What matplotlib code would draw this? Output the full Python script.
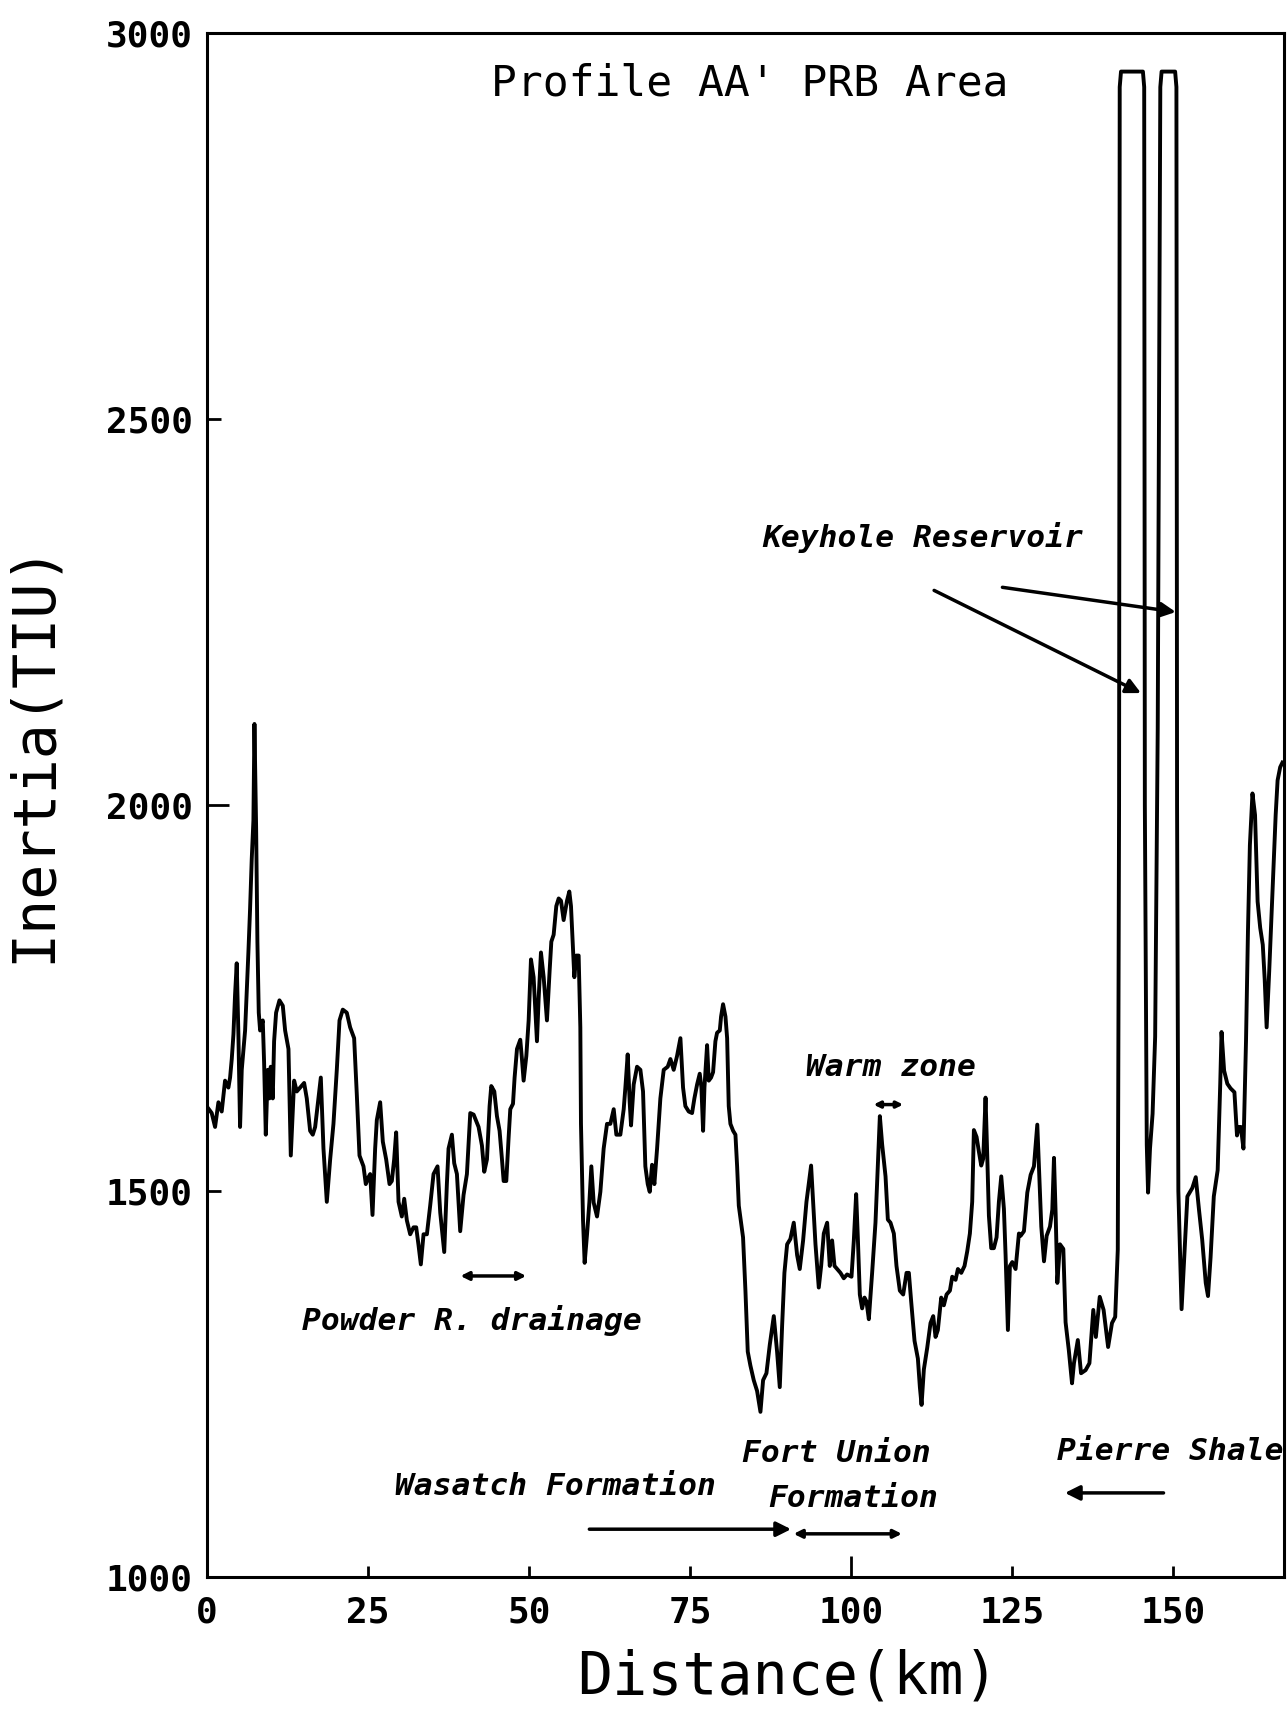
import matplotlib
matplotlib.use('Agg')
import matplotlib.pyplot as plt

# inertia profile, (distance km, inertia TIU)
seg_west = [(0.0, 1610), (0.8, 1601), (1.32, 1583), (1.84, 1615), (2.35, 1603), (2.87, 1643),
            (3.39, 1634), (3.65, 1647), (3.91, 1671), (4.17, 1703), (4.42, 1754), (4.68, 1795),
            (4.94, 1703), (5.2, 1583), (5.46, 1657), (5.98, 1708), (6.49, 1809), (6.75, 1865),
            (7.01, 1930), (7.27, 1980), (7.43, 2105), (7.69, 1971), (7.89, 1823), (8.1, 1731),
            (8.31, 1708), (8.72, 1721), (8.93, 1666), (9.19, 1573), (9.5, 1657), (9.76, 1620),
            (9.96, 1661), (10.27, 1620), (10.48, 1694), (10.79, 1731), (11.31, 1747), (11.83, 1740),
            (12.19, 1708), (12.71, 1684), (13.07, 1546), (13.59, 1643), (14.0, 1629), (14.52, 1634),
            (15.14, 1640), (15.55, 1620), (16.07, 1578), (16.48, 1573), (16.85, 1583), (17.36, 1620),
            (17.73, 1647), (18.14, 1555), (18.66, 1486), (19.18, 1541), (19.69, 1587), (20.21, 1657),
            (20.63, 1721), (21.14, 1735), (21.76, 1731), (22.28, 1712), (22.9, 1698), (23.32, 1624),
            (23.73, 1546), (24.35, 1532), (24.71, 1509), (25.13, 1518), (25.39, 1522), (25.75, 1469),
            (26.16, 1555), (26.42, 1592), (26.94, 1615), (27.35, 1564), (27.87, 1541), (28.39, 1509),
            (28.75, 1513), (29.11, 1541), (29.42, 1576), (29.79, 1486), (30.3, 1467), (30.67, 1490),
            (31.08, 1462), (31.6, 1444), (32.12, 1453), (32.53, 1453), (32.89, 1430), (33.25, 1405),
            (33.67, 1444), (34.19, 1444), (34.7, 1481), (35.22, 1522), (35.84, 1532), (36.26, 1472),
            (36.88, 1421), (37.29, 1509), (37.55, 1555), (38.07, 1573), (38.43, 1536), (38.85, 1522),
            (39.36, 1448), (39.88, 1495), (40.4, 1522)]

seg_wasatch = [(40.92, 1601), (41.44, 1599), (42.21, 1583), (42.73, 1559), (43.09, 1525), (43.51, 1541),
               (43.92, 1610), (44.18, 1636), (44.65, 1629), (45.06, 1597), (45.47, 1578), (45.84, 1541),
               (46.1, 1513), (46.51, 1513), (46.87, 1569), (47.13, 1606), (47.55, 1613), (47.8, 1647),
               (48.17, 1684), (48.68, 1696), (48.94, 1671), (49.2, 1643), (49.62, 1675), (49.98, 1721),
               (50.34, 1800), (50.75, 1777), (51.27, 1694), (51.53, 1749), (51.89, 1809), (52.31, 1777),
               (52.82, 1721), (53.24, 1786), (53.5, 1823), (53.86, 1832), (54.27, 1869), (54.64, 1879),
               (55.0, 1876), (55.41, 1851), (55.93, 1876), (56.29, 1888), (56.55, 1869), (56.86, 1814),
               (57.07, 1777), (57.38, 1805), (57.74, 1805), (58.0, 1712), (58.1, 1587), (58.42, 1462),
               (58.67, 1407), (59.04, 1444), (59.4, 1485), (59.71, 1532), (60.07, 1485), (60.59, 1467),
               (61.11, 1499), (61.62, 1555), (62.14, 1587), (62.66, 1587), (63.18, 1606), (63.59, 1573),
               (64.21, 1573), (64.73, 1606), (64.99, 1634), (65.35, 1677), (65.66, 1615), (65.87, 1585),
               (66.28, 1638), (66.8, 1661), (67.32, 1657), (67.73, 1629), (68.09, 1532), (68.46, 1509),
               (68.77, 1499), (69.13, 1534), (69.49, 1509), (69.91, 1555), (70.42, 1620), (70.94, 1657),
               (71.56, 1661), (71.98, 1671), (72.49, 1657), (73.01, 1675), (73.53, 1698), (73.94, 1634),
               (74.3, 1610), (74.82, 1603), (75.34, 1601), (75.7, 1620), (76.12, 1638), (76.53, 1652),
               (76.79, 1634), (77.05, 1578), (77.26, 1634), (77.67, 1689), (77.93, 1643), (78.29, 1647),
               (78.6, 1654), (78.96, 1694), (79.22, 1705), (79.64, 1708), (79.84, 1726), (80.15, 1742),
               (80.52, 1726), (80.78, 1698), (81.03, 1610), (81.29, 1587), (81.71, 1578), (82.07, 1573),
               (82.33, 1532), (82.59, 1481)]

seg_fortunion = [(83.25, 1440), (83.62, 1371), (83.98, 1292), (84.39, 1274), (84.91, 1255), (85.43, 1241),
                 (85.95, 1214), (86.36, 1255), (86.88, 1264), (87.4, 1301), (88.02, 1338), (88.53, 1292),
                 (88.95, 1246), (89.31, 1325), (89.67, 1394), (90.09, 1431), (90.6, 1438), (91.12, 1459),
                 (91.64, 1417), (92.05, 1399), (92.57, 1436), (93.09, 1486), (93.45, 1510), (93.81, 1533),
                 (94.12, 1486), (94.49, 1431), (95.0, 1375), (95.37, 1403), (95.78, 1445), (96.3, 1459),
                 (96.71, 1403), (97.07, 1436), (97.44, 1403), (97.85, 1399), (98.37, 1394), (98.88, 1387),
                 (99.4, 1392), (100.08, 1389), (100.44, 1436), (100.8, 1496), (101.06, 1440), (101.37, 1366),
                 (101.73, 1348), (102.1, 1362), (102.4, 1357), (102.77, 1334), (103.28, 1394), (103.8, 1459),
                 (104.16, 1533), (104.48, 1597), (104.84, 1560), (105.36, 1519), (105.72, 1463), (106.13, 1459),
                 (106.65, 1445), (107.06, 1403), (107.58, 1371), (108.1, 1366), (108.62, 1394), (108.98, 1394),
                 (109.34, 1357), (109.86, 1306), (110.38, 1283), (110.69, 1246), (110.95, 1223), (111.31, 1269),
                 (111.83, 1297), (112.34, 1329), (112.76, 1338), (113.12, 1311), (113.48, 1320), (114.0, 1362),
                 (114.41, 1352), (114.83, 1366), (115.35, 1371), (115.71, 1389), (116.23, 1385), (116.59, 1399),
                 (117.11, 1394), (117.62, 1403), (118.04, 1422), (118.45, 1445), (118.81, 1486), (119.07, 1579),
                 (119.49, 1570), (119.85, 1551), (120.21, 1533), (120.52, 1542), (120.88, 1621), (121.14, 1547),
                 (121.4, 1468), (121.76, 1426), (122.17, 1426), (122.59, 1440), (122.95, 1486), (123.32, 1519),
                 (123.73, 1477), (123.99, 1417), (124.35, 1320), (124.66, 1403), (125.03, 1408), (125.54, 1399),
                 (126.06, 1445)]

seg_east = [(126.32, 1442), (126.84, 1448), (127.36, 1498), (127.88, 1521), (128.39, 1532), (128.91, 1586),
            (129.17, 1532), (129.53, 1454), (129.95, 1409), (130.36, 1442), (130.88, 1454), (131.24, 1476),
            (131.5, 1543), (131.76, 1470), (132.02, 1381), (132.43, 1431), (132.95, 1425), (133.3, 1330),
            (133.8, 1294), (134.3, 1251), (134.6, 1277), (135.2, 1307), (135.7, 1264), (136.4, 1268),
            (137.0, 1277), (137.6, 1346), (138.0, 1311), (138.6, 1363), (139.2, 1346), (139.9, 1298),
            (140.5, 1329), (141.0, 1337), (141.4, 1424)]

# Keyhole Reservoir, clipped off the top of the plot
seg_reservoir = [(141.6, 2000), (141.7, 2930), (141.9, 2950), (145.3, 2950), (145.5, 2930), (145.6, 2000),
                 (145.9, 1560), (146.1, 1498), (146.4, 1555), (146.8, 1600), (147.2, 1700), (147.6, 2100),
                 (148.0, 2930), (148.2, 2950), (150.3, 2950), (150.5, 2930), (150.6, 2000), (150.8, 1500),
                 (151.3, 1347)]

seg_pierre = [(152.2, 1493), (152.97, 1504), (153.5, 1518), (154.0, 1476), (154.5, 1437), (155.05, 1381),
              (155.4, 1364), (155.8, 1414), (156.3, 1493), (156.9, 1527), (157.3, 1639), (157.5, 1706),
              (157.9, 1656), (158.4, 1639), (158.9, 1633), (159.5, 1628), (159.9, 1572), (160.2, 1583),
              (160.5, 1583), (160.9, 1555), (161.3, 1695), (161.6, 1836), (161.9, 1948), (162.3, 2015),
              (162.7, 1987), (163.1, 1875), (163.5, 1841), (163.9, 1819), (164.2, 1774), (164.5, 1712),
              (164.9, 1785), (165.4, 1886), (165.9, 1987), (166.2, 2032), (166.6, 2049), (166.95, 2055)]

x_ticks = [0, 25, 50, 75, 100, 125, 150]
y_ticks = [1000, 1500, 2000, 2500, 3000]

profile = seg_west + seg_wasatch + seg_fortunion + seg_east + seg_reservoir + seg_pierre
dist = [p[0] for p in profile]
inertia = [p[1] for p in profile]

mono = 'DejaVu Sans Mono'
fig = plt.figure(figsize=(12.87, 17.09), dpi=100)
ax = fig.add_axes([0.1605, 0.0772, 0.8372, 0.9035])

ax.plot(dist, inertia, color='black', lw=2.8, solid_joinstyle='round')

ax.set_xlim(0, 167.2)
ax.set_ylim(1000, 3000)
ax.set_xticks(x_ticks)
ax.set_yticks(y_ticks)
ax.set_xticklabels([str(t) for t in x_ticks], family=mono, fontsize=26, fontweight='bold')
ax.set_yticklabels([str(t) for t in y_ticks], family=mono, fontsize=26, fontweight='bold')
ax.tick_params(axis='x', direction='in', length=8, width=2, pad=13, top=False)
ax.tick_params(axis='y', direction='in', length=10, width=2, pad=10, right=False)
ax.xaxis.get_major_ticks()[4].tick1line.set_markersize(15)
ax.yaxis.get_major_ticks()[2].tick1line.set_markersize(16)
for s in ax.spines.values():
    s.set_linewidth(2.2)

fig.text(0.612, 0.0187, 'Distance(km)', family=mono, fontsize=42, ha='center', va='center')
fig.text(0.026, 0.56, 'Inertia(TIU)', family=mono, fontsize=42, ha='center', va='center', rotation=90)

ax.text(44.2, 2935, "Profile AA' PRB Area", family=mono, fontsize=31, ha='left', va='center')

note = dict(family=mono, fontsize=22.5, fontweight='bold', fontstyle='oblique', ha='left', va='center')
ax.text(86.2, 2346, 'Keyhole Reservoir', **note)
ax.text(93.0, 1660, 'Warm zone', **note)
ax.text(14.8, 1332, 'Powder R. drainage', **note)
ax.text(29.2, 1117, 'Wasatch Formation', **note)
ax.text(83.1, 1160, 'Fort Union', **note)
ax.text(87.2, 1102, 'Formation', **note)
ax.text(132.0, 1162, 'Pierre Shale', clip_on=True, **note)

arr = dict(arrowstyle='-|>', color='black', lw=2.5, mutation_scale=22, shrinkA=0, shrinkB=0)
arr2 = dict(arrowstyle='<|-|>', color='black', lw=2.5, mutation_scale=12, shrinkA=0, shrinkB=0)
ax.annotate('', xy=(145.0, 2145), xytext=(112.9, 2278), arrowprops=arr)
ax.annotate('', xy=(150.4, 2250), xytext=(123.5, 2282), arrowprops=arr)
ax.annotate('', xy=(108.1, 1612), xytext=(103.5, 1612),
            arrowprops=dict(arr2, mutation_scale=9, arrowstyle='<|-|>'))
ax.annotate('', xy=(49.6, 1390), xytext=(39.4, 1390), arrowprops=arr2)
ax.annotate('', xy=(90.7, 1062), xytext=(59.4, 1062), arrowprops=arr)
ax.annotate('', xy=(107.9, 1056), xytext=(91.1, 1056), arrowprops=arr2)
ax.annotate('', xy=(133.2, 1109), xytext=(148.5, 1109), arrowprops=arr)

fig.savefig('out.png', dpi=100)
